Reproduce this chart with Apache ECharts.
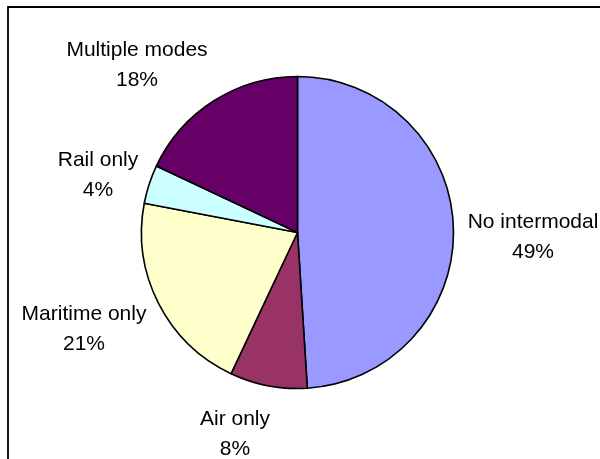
<!DOCTYPE html>
<html>
<head>
<meta charset="utf-8">
<script src="https://cdn.jsdelivr.net/npm/echarts@6/dist/echarts.min.js"></script>
<style>
  html, body { margin: 0; padding: 0; background: #fff; }
  #chart { width: 600px; height: 459px; }
</style>
</head>
<body>
<div id="chart"></div>
<script>
// Transport mode shares (percent), listed clockwise from 12 o'clock
const modes = ['No intermodal', 'Air only', 'Maritime only', 'Rail only', 'Multiple modes'];
const shares = [49, 8, 21, 4, 18];
const sliceColors = ['#9999FF', '#993366', '#FFFFCC', '#CCFFFF', '#660066'];

// Where each two-line label block is centred
const labelSpots = {
  'No intermodal': [533, 237],
  'Air only': [235, 434],
  'Maritime only': [84, 329],
  'Rail only': [98, 175],
  'Multiple modes': [137, 65]
};

const chart = echarts.init(document.getElementById('chart'), null, { renderer: 'canvas' });

chart.setOption({
  backgroundColor: '#ffffff',
  animation: false,
  graphic: [{
    type: 'rect',
    shape: { x: 8, y: 7, width: 640, height: 500 },
    style: { fill: 'none', stroke: '#000', lineWidth: 1.8 },
    silent: true,
    z: 0
  }],
  series: [{
    type: 'pie',
    center: [297.5, 232.5],
    radius: 156,
    startAngle: 90,
    clockwise: true,
    avoidLabelOverlap: false,
    data: modes.map((m, i) => ({
      name: m,
      value: shares[i],
      itemStyle: { color: sliceColors[i] }
    })),
    itemStyle: { borderColor: '#000', borderWidth: 1.6 },
    label: {
      show: true,
      position: 'outside',
      formatter: p => p.name + '\n' + p.value + '%',
      fontFamily: 'Liberation Sans, Arial, sans-serif',
      fontSize: 21,
      lineHeight: 30,
      color: '#000',
      align: 'center'
    },
    labelLine: { show: false },
    labelLayout: params => {
      const spot = labelSpots[modes[params.dataIndex]];
      return { x: spot[0], y: spot[1], align: 'center', verticalAlign: 'middle' };
    },
    emphasis: { disabled: true }
  }]
});
</script>
</body>
</html>
